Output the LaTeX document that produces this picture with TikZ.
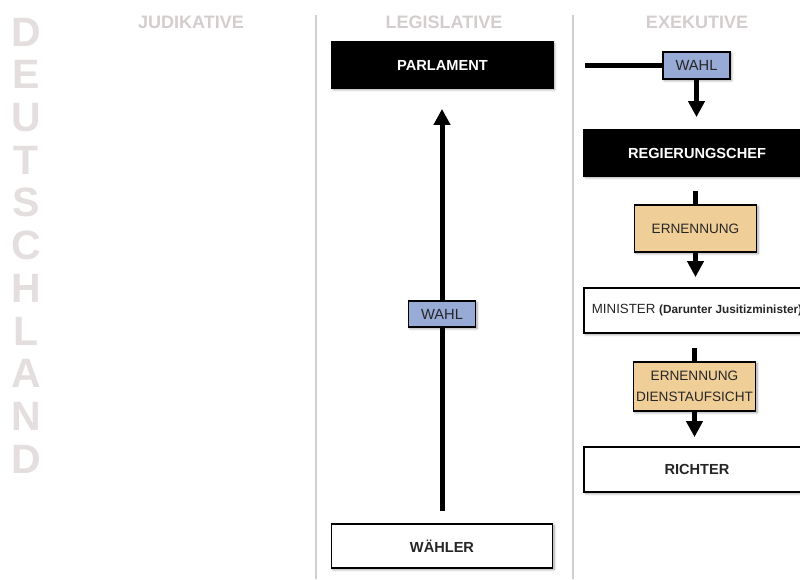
\documentclass[tikz,border=0pt]{standalone}
\usepackage{fontspec}
\setmainfont{Liberation Sans}
\usetikzlibrary{arrows.meta,shadows.blur}

\definecolor{landgray}{RGB}{228,222,222}
\definecolor{headgray}{RGB}{212,205,205}
\definecolor{sepgray}{RGB}{212,206,206}
\definecolor{wahlblue}{RGB}{152,170,214}
\definecolor{ernsand}{RGB}{240,206,152}

\tikzset{
  shade box/.style={draw=black, line width=1.8pt, inner sep=0pt, align=center,
    blur shadow={shadow xshift=1.5pt, shadow yshift=-1.5pt, shadow blur radius=2.5pt, shadow blur steps=5}},
  blackbox/.style={shade box, fill=black, text=white, minimum width=221pt, minimum height=46pt,
    font=\fontsize{14.6}{16}\selectfont\bfseries},
  whitebox/.style={shade box, fill=white, text=black!85, minimum width=221pt, minimum height=45pt,
    font=\fontsize{14.6}{16}\selectfont\bfseries},
  wahlbox/.style={shade box, fill=wahlblue, text=black!85, minimum width=67pt, minimum height=26pt,
    font=\fontsize{14.7}{16}\selectfont},
  ernbox/.style={shade box, fill=ernsand, text=black!85, minimum width=122pt, minimum height=47pt,
    font=\fontsize{13.6}{21}\selectfont},
  heading/.style={text=headgray, inner sep=0pt, font=\fontsize{18}{20}\selectfont\bfseries},
  landletter/.style={text=landgray, inner sep=0pt, font=\fontsize{41}{41}\selectfont\bfseries},
  conn/.style={line width=5pt},
  arr/.style={conn, -{Triangle[width=16pt,length=16pt]}}
}

\begin{document}
\begin{tikzpicture}[x=1pt,y=-1pt]
  \useasboundingbox (0,0) rectangle (800,579);
  \clip (0,0) rectangle (800,579);
  % Land
  \foreach [count=\i from 0] \ch in {D,E,U,T,S,C,H,L,A,N,D}
    \node[landletter] (land\i) at (26,32+42.7*\i) {\ch};
  % Spalten
  \draw[sepgray, line width=2pt] (316,15) -- (316,579);
  \draw[sepgray, line width=2pt] (573,15) -- (573,579);
  \node[heading] (judikative) at (191,22) {JUDIKATIVE};
  \node[heading] (legislative) at (444,22) {LEGISLATIVE};
  \node[heading] (exekutive) at (697,22) {EXEKUTIVE};
  % Legislative
  \node[blackbox] (parlament) at (442.5,65) {PARLAMENT};
  \node[whitebox, minimum height=44pt] (waehler) at (442,546) {WÄHLER};
  \node[wahlbox] (wahlleg) at (442,314) {WAHL};
  \draw[conn, shorten <=12pt] (waehler.north) -- (wahlleg.south);
  \draw[arr, shorten >=20pt] (wahlleg.north) -- (parlament.south -| wahlleg.north);
  % Exekutive
  \coordinate (wahlstart) at (585,65.5);
  \node[wahlbox, minimum height=27pt] (wahlexe) at (696.5,65.5) {WAHL};
  \node[blackbox, minimum width=226pt] (chef) at (697,153) {REGIERUNGSCHEF};
  \node[ernbox] (ernennung) at (695.5,228.5) {ERNENNUNG};
  \node[whitebox, minimum width=226pt] (minister) at (697,310.5)
    {\fontsize{13.3}{16}\selectfont\mdseries MINISTER \fontsize{11.8}{16}\selectfont\bfseries(Darunter Jusitizminister)};
  \node[ernbox, minimum height=49pt] (dienstaufsicht) at (694.5,386.5) {ERNENNUNG\\DIENSTAUFSICHT};
  \node[whitebox, minimum width=226pt] (richter) at (697,469.5) {RICHTER};
  \draw[conn] (wahlstart) -- (wahlexe.west);
  \draw[arr, shorten >=12pt] (wahlexe.south) -- (chef.north -| wahlexe.south);
  \draw[conn, shorten <=14pt] (chef.south -| ernennung.north) -- (ernennung.north);
  \draw[arr, shorten >=10pt] (ernennung.south) -- (minister.north -| ernennung.south);
  \draw[conn, shorten <=14pt] (minister.south -| dienstaufsicht.north) -- (dienstaufsicht.north);
  \draw[arr, shorten >=9pt] (dienstaufsicht.south) -- (richter.north -| dienstaufsicht.south);
\end{tikzpicture}
\end{document}
